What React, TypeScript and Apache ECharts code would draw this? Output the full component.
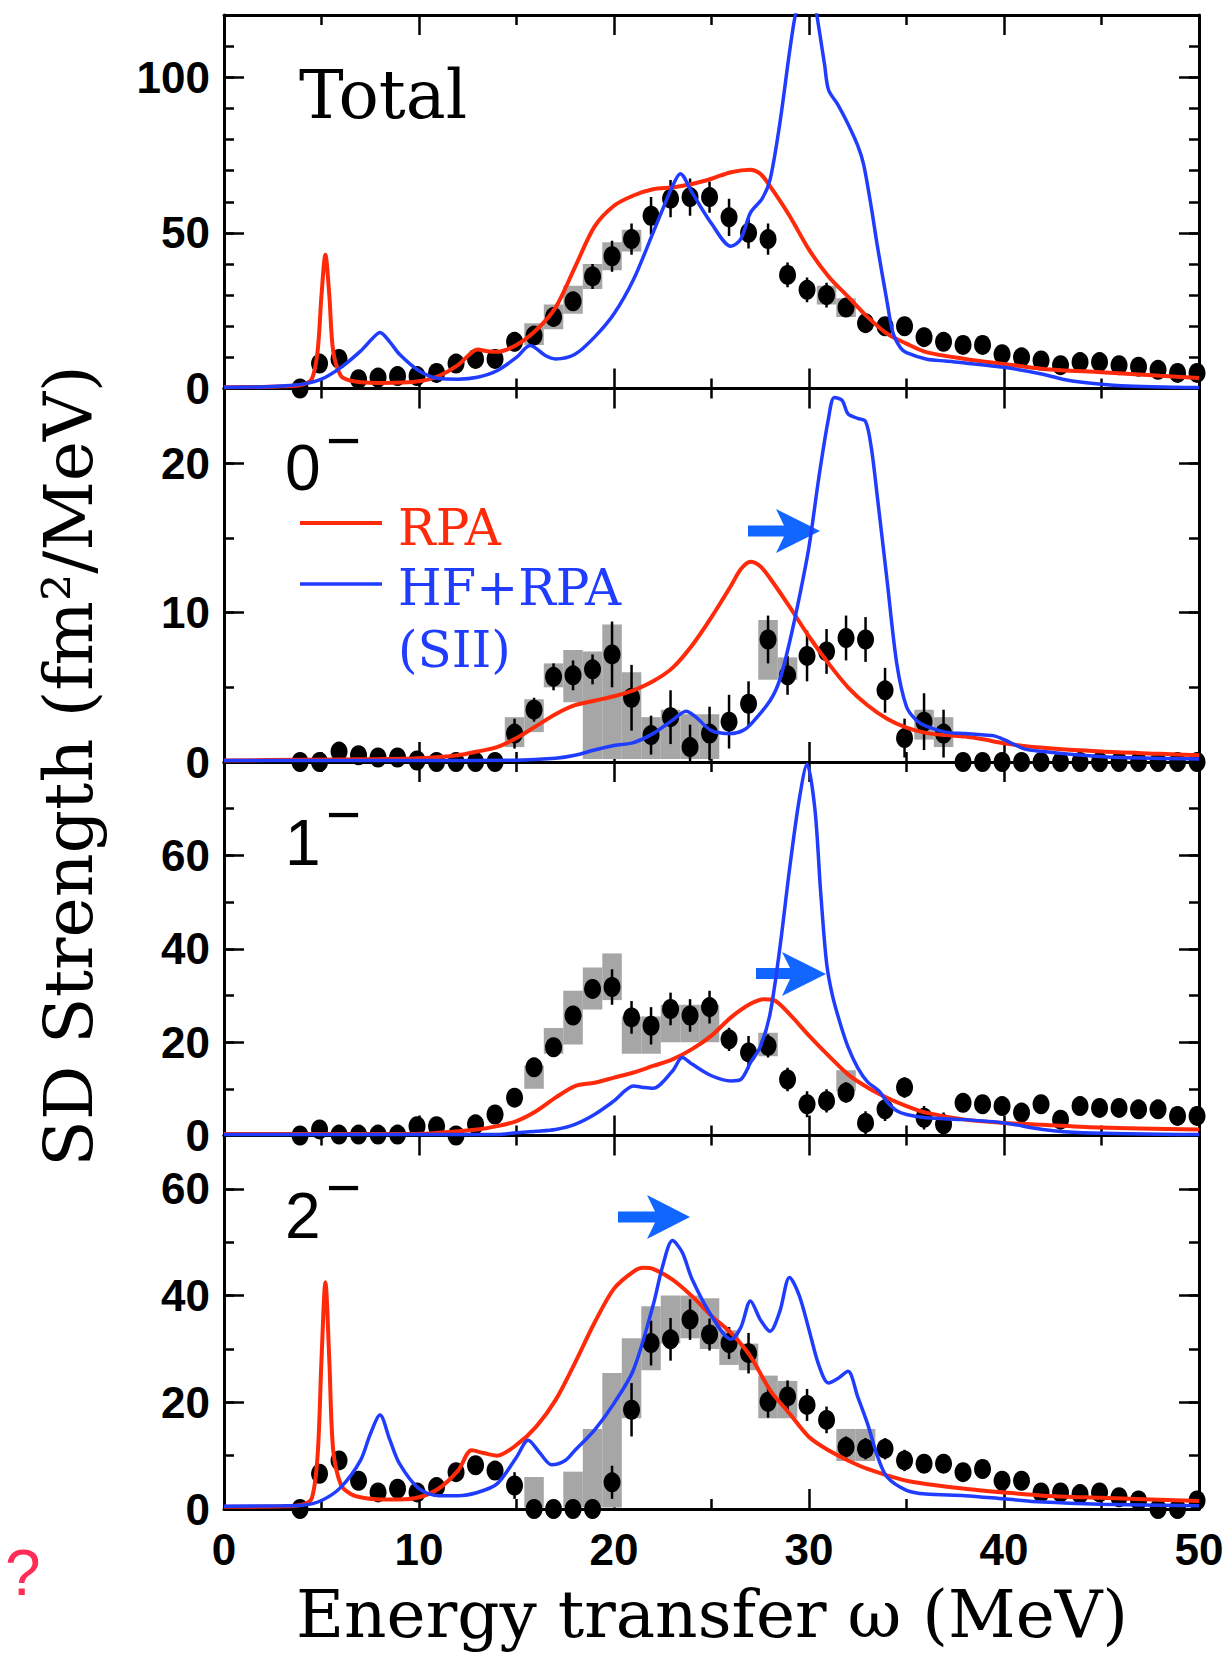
import React, { useEffect, useRef } from "react";
import * as echarts from "echarts";

// ---------- DATA ----------
// Measured energies (MeV) of the data points (shared by all panels)
const energies = [3.9, 4.9, 5.9, 6.9, 7.9, 8.9, 9.9, 10.9, 11.9, 12.9, 13.9, 14.9, 15.9, 16.9, 17.9, 18.9, 19.9, 20.9, 21.9, 22.9, 23.9, 24.9, 25.9, 26.9, 27.9, 28.9, 29.9, 30.9, 31.9, 32.9, 33.9, 34.9, 35.9, 36.9, 37.9, 38.9, 39.9, 40.9, 41.9, 42.9, 43.9, 44.9, 45.9, 46.9, 47.9, 48.9, 49.9];

const xTickValues = [0, 10, 20, 30, 40, 50];

// Total
const totalPts = [0, 8, 9.5, 3, 3.5, 4, 4, 5, 8, 9.5, 9.5, 15, 17, 23, 28, 36, 42.5, 48, 55.5, 61, 61.5, 61.5, 55, 50, 48, 36.5, 31.7, 30, 26, 21, 20, 20, 16.5, 15, 14, 14, 11, 10, 9, 7.5, 8.5, 8.5, 7.5, 7, 6, 5, 5];
const totalErr = [1, 3, 3, 2, 2, 2, 2, 2, 3, 3, 3, 3, 3, 3, 3, 4, 5, 5, 6, 6, 6, 5, 6, 5, 5, 4, 4, 4, 3, 3, 3, 3, 3, 2, 2, 2, 2, 2, 2, 2, 2, 2, 2, 2, 2, 2, 2];
const totalSys = [[15.9, 14, 21], [16.9, 19, 27], [17.9, 24, 33], [18.9, 32, 40], [19.9, 38, 47], [20.9, 44, 51], [30.9, 27, 33], [31.9, 23, 29]];
const totalRpa = [[0, 0.4], [2, 0.5], [3, 0.7], [4, 1.2], [4.5, 3], [4.8, 12], [5.0, 30], [5.2, 43], [5.4, 30], [5.6, 12], [6, 4], [6.5, 2.5], [7, 2], [8, 1.8], [9, 1.9], [10, 2.3], [11, 4], [12, 7.5], [12.6, 11], [13, 12.5], [13.5, 12], [14, 11.8], [15, 14], [16, 18.7], [17, 26], [18, 39], [19, 52], [20, 58.7], [21, 62], [22, 64], [23, 64.6], [24, 65.7], [25, 67.4], [26, 69.5], [27, 70.3], [27.5, 69], [28, 65], [29, 55.5], [30, 44.6], [31, 36], [32, 29.5], [33, 23], [34, 17.6], [35, 14.4], [36, 11.7], [38, 9.5], [40, 7.9], [42, 6.3], [45, 5.2], [48, 4.1], [50, 3.4]];
const totalHf = [[0, 0.4], [2, 0.5], [3, 0.8], [4, 1.4], [5, 3], [6, 6.8], [7, 12], [7.6, 16], [8, 18], [8.5, 15], [9, 11], [10, 5.7], [11, 3.2], [12, 3], [13, 3.6], [14, 5.7], [15, 10], [15.7, 13.8], [16.5, 10.5], [17, 9.5], [18, 11], [19, 16.5], [20, 24], [21, 35], [22, 50], [23, 65], [23.4, 69], [24, 63], [25, 53], [26, 45.7], [26.5, 48], [27, 56.5], [27.6, 61], [28, 67], [28.5, 85], [29, 108], [29.3, 120], [29.8, 132], [30.1, 130], [30.4, 120], [30.8, 104], [31, 96], [31.5, 91], [32, 85], [32.5, 78], [32.8, 72], [33.2, 58], [33.5, 46], [34, 28], [34.3, 18], [34.7, 13], [35, 11.5], [36, 9.5], [37, 8.8], [38, 8.2], [40, 6.8], [42, 4.6], [43, 3], [44, 2], [46, 0.9], [50, 0.3]];

// 0-
const zeroPts = [0, 0, 0.7, 0.45, 0.3, 0.3, 0.1, 0, 0, 0, 0, 1.9, 3.5, 5.7, 5.8, 6.2, 7.2, 4.3, 1.8, 3.0, 1.0, 1.9, 2.7, 3.9, 8.2, 5.8, 7.1, 7.4, 8.3, 8.2, 4.8, 1.6, 2.7, 1.9, 0, 0, 0, 0, 0, 0, 0, 0, 0, 0, 0, 0, 0];
const zeroErr = [0.3, 0.3, 0.3, 0.3, 0.3, 0.3, 0.3, 0.3, 0.3, 0.3, 0.3, 1.0, 0.8, 0.9, 1.0, 1.0, 2.2, 2.2, 1.3, 1.8, 1.5, 1.8, 1.8, 1.5, 1.6, 1.3, 1.7, 1.5, 1.5, 1.5, 1.5, 1.3, 1.9, 1.6, 0.3, 0.3, 0.3, 0.3, 0.3, 0.3, 0.3, 0.3, 0.3, 0.3, 0.3, 0.3, 0.3];
const zeroSys = [[14.9, 1, 3], [15.9, 2, 4.2], [16.9, 5, 6.6], [17.9, 4, 7.5], [18.9, 0.2, 7.4], [19.9, 0.2, 9.2], [20.9, 0.2, 6], [21.9, 0.2, 3], [22.9, 0.2, 3.5], [23.9, 0.2, 3.2], [24.9, 0.2, 3.2], [27.9, 5.5, 9.5], [28.9, 5.5, 7], [35.9, 1.5, 3.5], [36.9, 1, 3]];
const zeroRpa = [[0, 0.1], [4, 0.15], [8, 0.2], [10, 0.25], [12, 0.45], [13, 0.7], [14, 1.0], [15, 1.6], [16, 2.4], [17, 3.2], [18, 3.8], [19, 4.1], [20, 4.4], [21, 4.8], [22, 5.4], [23, 6.3], [24, 7.8], [25, 9.7], [26, 11.8], [26.5, 12.9], [27, 13.4], [27.5, 13.1], [28, 12.3], [29, 10.4], [30, 8.4], [31, 6.6], [32, 5.0], [33, 3.8], [34, 2.9], [35, 2.3], [36, 1.95], [37, 1.8], [38, 1.7], [39, 1.5], [40, 1.25], [42, 0.95], [45, 0.7], [48, 0.55], [50, 0.45]];
const zeroHf = [[0, 0.1], [10, 0.1], [15, 0.12], [17, 0.25], [18, 0.45], [19, 0.8], [20, 1.1], [21, 1.3], [22, 1.9], [23, 2.8], [23.7, 3.4], [24.2, 3.0], [25, 2.1], [26, 1.9], [26.6, 2.1], [27, 2.5], [28, 4.1], [28.5, 5.5], [29, 8.0], [29.5, 11], [30, 14.4], [30.5, 19], [31, 23], [31.3, 24.4], [31.7, 24.2], [32, 23.3], [32.5, 23.0], [32.9, 22.8], [33.2, 21], [33.5, 17.8], [34, 12.2], [34.5, 6.6], [35, 3.7], [35.5, 2.8], [36, 2.4], [37, 2.0], [38, 1.9], [39, 1.8], [39.5, 1.75], [40, 1.5], [41, 0.9], [42, 0.7], [44, 0.45], [46, 0.3], [50, 0.2]];

// 1-
const onePts = [0, 1.3, 0.2, 0.2, 0.2, 0.2, 2.0, 2.0, 0, 2.4, 4.5, 8.1, 14.6, 18.9, 25.7, 31.4, 31.8, 25.3, 23.5, 27.1, 25.7, 27.5, 20.6, 17.8, 19.2, 12.0, 6.7, 7.4, 9.2, 2.7, 5.6, 10.3, 3.8, 2.4, 7.0, 6.7, 6.3, 4.9, 6.7, 3.4, 6.3, 5.9, 5.9, 5.6, 5.6, 4.2, 4.2];
const oneErr = [1, 1, 1, 1, 1, 1, 1, 1, 1, 1, 1, 1.5, 1.5, 1.5, 1.5, 2, 3.8, 3.5, 4, 3.5, 3.5, 3.5, 2.5, 3.5, 2.5, 2.5, 2.8, 2.5, 2.2, 2.5, 2.5, 2.2, 2.5, 2.5, 1.5, 1.5, 1.5, 1.5, 1.5, 1.5, 1.5, 1.5, 1.5, 1.5, 1.5, 1.5, 1.5];
const oneSys = [[15.9, 10, 15], [16.9, 17.5, 23], [17.9, 19.5, 31], [18.9, 27, 36], [19.9, 29, 39], [20.9, 17.5, 25.5], [21.9, 17.5, 25.5], [22.9, 20, 28], [23.9, 20, 28], [24.9, 20, 28], [27.9, 17, 22], [31.9, 9.5, 14]];
const oneRpa = [[0, 0.3], [10, 0.35], [11, 0.6], [13, 1.3], [14, 2.0], [15, 3.1], [16, 5.2], [17, 8.1], [18, 10.6], [19, 11.3], [20, 12.4], [21, 13.5], [22, 14.9], [23, 16.3], [24, 18.5], [25, 21.4], [26, 25.3], [27, 28.2], [27.7, 29.2], [28.2, 29], [29, 26], [30, 21.4], [31, 17.1], [32, 13.1], [33, 10.3], [34, 8.1], [35, 6.3], [36, 4.9], [38, 3.4], [40, 2.7], [42, 2.3], [45, 1.7], [50, 1.3]];
const oneHf = [[0, 0.2], [14, 0.2], [15, 0.6], [16, 0.9], [17, 1.3], [18, 2.4], [19, 4.5], [20, 7.4], [21, 10.6], [21.5, 10.3], [22, 10.1], [23, 13.8], [23.5, 16.7], [24, 15.3], [25, 12.8], [26, 11.7], [26.5, 12], [27, 15.6], [27.5, 19], [28, 26], [28.5, 40], [29, 57], [29.5, 72], [29.9, 79.5], [30.3, 70], [30.6, 52], [30.9, 37], [31.2, 30], [31.6, 24], [32, 19], [32.5, 14.5], [33, 11.5], [33.6, 9.5], [34, 7.2], [34.5, 5.3], [35, 4.5], [36, 3.8], [38, 3.4], [40, 2.7], [42, 1.3], [44, 0.6], [50, 0.2]];

// 2-
const twoPts = [0, 6.6, 9.1, 5.3, 3.1, 3.8, 3.1, 4.1, 6.9, 8.2, 7.2, 4.4, 0, 0, 0, 0, 5.0, 18.6, 31.1, 31.8, 35.5, 32.7, 31.1, 29.2, 20.1, 21.1, 19.5, 16.7, 11.6, 11.3, 11.3, 9.1, 8.5, 8.5, 6.9, 7.5, 5.3, 5.3, 3.1, 3.1, 2.8, 3.1, 2.2, 1.6, 0, 0, 1.6];
const twoErr = [1, 1.5, 1.5, 1.5, 1.5, 1.5, 1.5, 1.5, 1.5, 1.5, 1.5, 2.5, 1, 1, 1, 1, 3.1, 5, 4.2, 4, 3.8, 3, 3, 3.8, 3, 3, 3, 2.5, 2, 2, 2, 2, 1.5, 1.5, 1.5, 1.5, 1.5, 1.5, 1.5, 1.5, 1.5, 1.5, 1.5, 1.5, 1.5, 1.5, 1.5];
const twoSys = [[15.9, 0.3, 6], [17.9, 0.3, 7], [18.9, 0.3, 15], [19.9, 0.3, 25.5], [20.9, 17, 32], [21.9, 26, 38], [22.9, 31, 40], [23.9, 32, 40], [24.9, 30, 39.5], [25.9, 27, 33.5], [26.9, 26, 31], [27.9, 17, 25], [28.9, 17, 24], [31.9, 9, 15], [32.9, 9, 15]];
const twoRpa = [[0, 0.4], [3, 0.5], [4, 0.8], [4.5, 2], [4.8, 10], [5.0, 28], [5.2, 42.5], [5.4, 28], [5.6, 11], [6, 4.5], [6.5, 2.8], [7, 2.2], [8, 1.8], [9, 1.8], [10, 2.2], [11, 3.8], [12, 7.2], [12.7, 11], [13.3, 10.5], [14, 10], [15, 12], [16, 15.4], [17, 20.4], [18, 27.4], [19, 34.9], [20, 41.3], [21, 44.5], [21.5, 45.2], [22, 45], [23, 43], [24, 39.9], [25, 36.2], [26, 33], [27, 28.6], [28, 22.3], [29, 17.9], [30, 13.5], [31, 11], [32, 9.1], [33, 7.5], [34, 6.3], [35, 5.3], [36, 4.7], [38, 3.8], [40, 3.1], [42, 2.5], [45, 2.1], [50, 1.5]];
const twoHf = [[0, 0.5], [3, 0.6], [4, 0.7], [5, 1.6], [6, 4.1], [7, 9.1], [7.5, 14], [8, 17.6], [8.5, 13], [9, 8.5], [10, 3.8], [11, 2.5], [12, 2.5], [13, 3.1], [14, 4.7], [15, 9.7], [15.6, 12.9], [16.2, 10.5], [16.8, 8.3], [17.5, 9.1], [18, 11], [19, 14.8], [20, 19.8], [21, 26.1], [22, 38.1], [22.5, 45.6], [23, 50.3], [23.5, 48.1], [24, 43.1], [25, 36.2], [26, 31.8], [26.5, 34], [27, 39], [27.5, 35.5], [28, 33.3], [28.5, 37], [29, 43.4], [29.5, 40], [30, 33.6], [30.5, 27], [31, 23.6], [31.5, 24.5], [32, 25.8], [32.5, 21], [33, 16], [33.5, 10], [34, 6], [35, 3.5], [36, 2.8], [38, 2.5], [40, 1.9], [42, 1.3], [45, 0.9], [50, 0.6]];

// Axis ranges
const yMaxes = [120, 25, 80, 70];
const yMajorSteps = [50, 10, 20, 20];
const yMinorSteps = [10, 5, 10, 10];

// Texts
const panelNames = ["Total", "0", "1", "2"];
const legendNames = ["RPA", "HF+RPA", "(SII)"];
const xTitle = "Energy transfer ω (MeV)";
const yTitle = "SD Strength (fm²/MeV)";

// ---------- STYLE ----------
const SANS = "'Liberation Sans', Arial, sans-serif";
const SERIF = "'DejaVu Serif', serif";
const RED = "#ff2a0a";
const BLUE = "#1f3cff";
const ARROW = "#1166ff";
const GRAY = "#a6a6a6";

const GRID_LEFT = 224;
const GRID_WIDTH = 975;
const GRID_TOP = 15;
const PANEL_H = 373.5;

function buildOption() {
  const panels = [
    { pts: totalPts, err: totalErr, sys: totalSys, rpa: totalRpa, hf: totalHf },
    { pts: zeroPts, err: zeroErr, sys: zeroSys, rpa: zeroRpa, hf: zeroHf },
    { pts: onePts, err: oneErr, sys: oneSys, rpa: oneRpa, hf: oneHf },
    { pts: twoPts, err: twoErr, sys: twoSys, rpa: twoRpa, hf: twoHf },
  ];
  const lineStyle = { color: "#000", width: 3 };
  const tickStyle = { color: "#000", width: 2.5 };
  const grid: any[] = [];
  const xAxis: any[] = [];
  const yAxis: any[] = [];
  const series: any[] = [];

  panels.forEach((p, i) => {
    grid.push({ left: GRID_LEFT, width: GRID_WIDTH, top: GRID_TOP + i * PANEL_H, height: PANEL_H });
    const xBase = {
      type: "value",
      gridIndex: i,
      min: xTickValues[0],
      max: xTickValues[xTickValues.length - 1],
      interval: 10,
      splitLine: { show: false },
      axisLine: { show: true, onZero: false, lineStyle },
      axisTick: { show: true, inside: true, length: 20, lineStyle: tickStyle },
      minorTick: { show: true, splitNumber: 2, length: 10, lineStyle: tickStyle },
    };
    xAxis.push({
      ...xBase,
      position: "bottom",
      axisLabel: {
        show: i === 3,
        margin: 18,
        color: "#000",
        fontFamily: SANS,
        fontWeight: "bold",
        fontSize: 44,
      },
    });
    xAxis.push({ ...xBase, position: "top", axisLabel: { show: false } });

    const major = yMajorSteps[i];
    const yBase = {
      type: "value",
      gridIndex: i,
      min: 0,
      max: yMaxes[i],
      splitLine: { show: false },
      minorTick: { show: false },
    };
    yAxis.push({
      ...yBase,
      position: "left",
      interval: major,
      axisLine: { show: true, onZero: false, lineStyle },
      axisTick: { show: true, inside: true, length: 20, lineStyle: tickStyle },
      axisLabel: {
        show: true,
        margin: 14,
        color: "#000",
        fontFamily: SANS,
        fontWeight: "bold",
        fontSize: 44,
        formatter: (v: number) => (v % major === 0 && v < yMaxes[i] ? String(v) : ""),
      },
    });
    yAxis.push({
      ...yBase,
      position: "left",
      interval: yMinorSteps[i],
      axisLine: { show: false, onZero: false },
      axisTick: { show: true, inside: true, length: 10, lineStyle: tickStyle },
      axisLabel: { show: false },
    });
    yAxis.push({
      ...yBase,
      position: "right",
      interval: major,
      axisLine: { show: true, onZero: false, lineStyle },
      axisTick: { show: true, inside: true, length: 20, lineStyle: tickStyle },
      axisLabel: { show: false },
    });
    yAxis.push({
      ...yBase,
      position: "right",
      interval: yMinorSteps[i],
      axisLine: { show: false, onZero: false },
      axisTick: { show: true, inside: true, length: 10, lineStyle: tickStyle },
      axisLabel: { show: false },
    });

    const xi = 2 * i;
    const yi = 4 * i;

    series.push({
      type: "custom",
      xAxisIndex: xi,
      yAxisIndex: yi,
      silent: true,
      clip: true,
      z: 1,
      data: p.sys,
      renderItem: (_params: any, api: any) => {
        const x = api.value(0);
        const lo = api.value(1);
        const hi = api.value(2);
        const a = api.coord([x - 0.5, hi]);
        const b = api.coord([x + 0.5, lo]);
        return {
          type: "rect",
          shape: { x: a[0], y: a[1], width: b[0] - a[0], height: b[1] - a[1] },
          style: { fill: GRAY },
        };
      },
    });
    series.push({
      type: "custom",
      xAxisIndex: xi,
      yAxisIndex: yi,
      silent: true,
      clip: true,
      z: 2,
      data: energies.map((e, k) => [e, p.pts[k], p.err[k]]),
      renderItem: (_params: any, api: any) => {
        const x = api.value(0);
        const y = api.value(1);
        const e = api.value(2);
        const a = api.coord([x, y - e]);
        const b = api.coord([x, y + e]);
        return {
          type: "line",
          shape: { x1: a[0], y1: a[1], x2: b[0], y2: b[1] },
          style: { stroke: "#000", lineWidth: 2.5 },
        };
      },
    });
    series.push({
      type: "scatter",
      xAxisIndex: xi,
      yAxisIndex: yi,
      silent: true,
      z: 3,
      symbol: "circle",
      symbolSize: [17, 20],
      itemStyle: { color: "#000", opacity: 1 },
      data: energies.map((e, k) => [e, p.pts[k]]),
    });
    series.push({
      type: "line",
      xAxisIndex: xi,
      yAxisIndex: yi,
      silent: true,
      z: 4,
      showSymbol: false,
      smooth: 0.3,
      clip: true,
      lineStyle: { color: RED, width: 4 },
      data: p.rpa,
    });
    series.push({
      type: "line",
      xAxisIndex: xi,
      yAxisIndex: yi,
      silent: true,
      z: 5,
      showSymbol: false,
      smooth: 0.3,
      clip: true,
      lineStyle: { color: BLUE, width: 3.5 },
      data: p.hf,
    });
  });

  const digitBase = [490, 865, 1238];
  const minusMid = [440, 814, 1187];
  const graphics: any[] = [
    {
      type: "text",
      x: 299,
      y: 95,
      style: { text: panelNames[0], fontFamily: SERIF, fontSize: 67, fill: "#000", align: "left", verticalAlign: "middle" },
    },
  ];
  [1, 2, 3].forEach((k, j) => {
    graphics.push({
      type: "text",
      x: 285,
      y: digitBase[j] - 22,
      style: { text: panelNames[k], fontFamily: SANS, fontSize: 64, fill: "#000", align: "left", verticalAlign: "middle" },
    });
    graphics.push({
      type: "text",
      x: 326,
      y: minusMid[j],
      style: { text: "−", fontFamily: SANS, fontSize: 60, fill: "#000", align: "left", verticalAlign: "middle" },
    });
  });
  // legend
  graphics.push({ type: "line", shape: { x1: 300, y1: 523, x2: 382, y2: 523 }, style: { stroke: RED, lineWidth: 4 } });
  graphics.push({ type: "line", shape: { x1: 300, y1: 584, x2: 382, y2: 584 }, style: { stroke: BLUE, lineWidth: 3.5 } });
  graphics.push({ type: "text", x: 398, y: 528, style: { text: legendNames[0], fontFamily: SERIF, fontSize: 50, fill: RED, align: "left", verticalAlign: "middle" } });
  graphics.push({ type: "text", x: 398, y: 588, style: { text: legendNames[1], fontFamily: SERIF, fontSize: 50, fill: BLUE, align: "left", verticalAlign: "middle" } });
  graphics.push({ type: "text", x: 398, y: 650, style: { text: legendNames[2], fontFamily: SERIF, fontSize: 50, fill: BLUE, align: "left", verticalAlign: "middle" } });
  // arrows
  const arrows = [
    [[748, 525.5], [784, 525.5], [776, 509], [820, 531], [776, 553], [784, 536.5], [748, 536.5]],
    [[756, 968], [790, 968], [782, 952], [826, 974], [782, 996], [790, 979], [756, 979]],
    [[618, 1211.5], [655, 1211.5], [647, 1195], [690, 1217], [647, 1239], [655, 1222.5], [618, 1222.5]],
  ];
  arrows.forEach((pts) => {
    graphics.push({ type: "polygon", shape: { points: pts }, style: { fill: ARROW } });
  });
  // axis titles
  graphics.push({
    type: "text",
    x: 712,
    y: 1614,
    style: { text: xTitle, fontFamily: SERIF, fontSize: 66, fill: "#000", align: "center", verticalAlign: "middle" },
  });
  graphics.push({
    type: "text",
    x: 68,
    y: 766,
    rotation: Math.PI / 2,
    style: { text: yTitle, fontFamily: SERIF, fontSize: 68, fill: "#000", align: "center", verticalAlign: "middle" },
  });
  graphics.push({
    type: "text",
    x: 5,
    y: 1573,
    style: { text: "?", fontFamily: SANS, fontSize: 64, fill: "#ff2d55", align: "left", verticalAlign: "middle" },
  });

  return {
    animation: false,
    backgroundColor: "#ffffff",
    grid,
    xAxis,
    yAxis,
    series,
    graphic: { elements: graphics },
  };
}

export default function App() {
  const ref = useRef<HTMLDivElement>(null);
  useEffect(() => {
    if (!ref.current) return;
    const chart = echarts.init(ref.current, null, { renderer: "svg", width: 1228, height: 1657 });
    chart.setOption(buildOption() as any);
    return () => chart.dispose();
  }, []);
  return (
    <div
      ref={ref}
      style={{ position: "absolute", left: 0, top: 0, width: 1228, height: 1657, background: "#fff" }}
    />
  );
}
